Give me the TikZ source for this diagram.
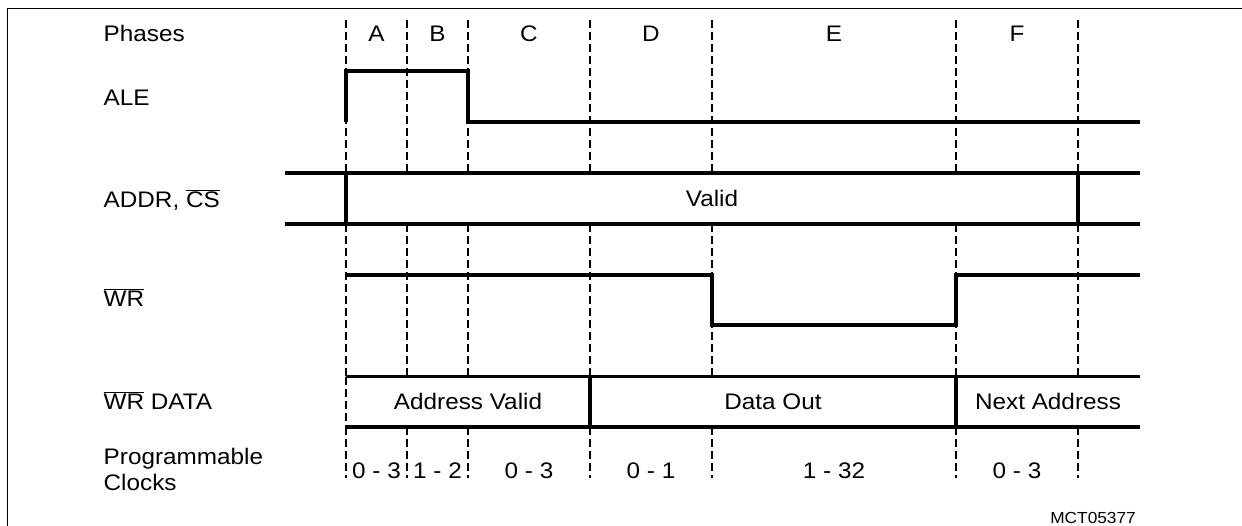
\documentclass[tikz,border=0pt]{standalone}
\usepackage{fontspec}
\setmainfont{Liberation Sans}[FakeStretch=1.08]
\usepackage{tikz}

\newcommand\ovl[1]{$\overline{\mbox{#1}}$}

\begin{document}
\begin{tikzpicture}[x=1pt,y=-1pt,
	sigline/.style={line width=3.2pt},
	phaseline/.style={line width=1.5pt,dash pattern=on 8pt off 4pt},
	lbl/.style={inner sep=0pt,anchor=base,font=\fontsize{22.5}{26}\selectfont},
	tag/.style={lbl,anchor=base west}]
\useasboundingbox (0,0) rectangle (1242,525);
\def\xr{1140}
\def\addrtop{173}
\def\addrbot{224}
\def\dtop{376.7}
\def\dbot{427}

% frame (only left and top edges are inside the picture)
\draw[line width=1.4pt] (7.3,526) |- (1243,8.3);

% phase boundaries
\foreach \x in {346,407,468,590,712,956,1078} {
	\draw[phaseline] (\x,20) -- (\x,\addrtop);
	\draw[phaseline] (\x,\addrbot) -- (\x,\dtop);
	\draw[phaseline] (\x,\dbot) -- (\x,478);
}
\draw[phaseline] (346,\dtop) -- (346,\dbot);

% row labels
\node[tag] (phases) at (103.5,41.5) {Phases};
\node[tag] (ale) at (103.5,105) {ALE};
\node[tag] (addr) at (103.5,207) {ADDR, \ovl{CS}};
\node[tag] (wr) at (103.5,306.5) {\ovl{WR}};
\node[tag] (wrdata) at (103.5,409.5) {\ovl{WR} DATA};
\node[tag] (prog) at (103.5,464) {Programmable};
\node[tag] (clocks) at (103.5,490) {Clocks};

\foreach \lab/\xc in {A/376.5,B/437.5,C/529,D/651,E/834,F/1017}
	\node[lbl] (ph\lab) at (\xc,41.5) {\lab};

% ALE
\draw[sigline] (346,122) -- (346,71) -- (468,71) -- (468,122) -- (\xr,122);

% ADDR, CS
\draw[sigline] (285,\addrtop) -- (\xr,\addrtop);
\draw[sigline] (285,\addrbot) -- (\xr,\addrbot);
\draw[sigline] (346,\addrtop) -- (346,\addrbot);
\draw[sigline] (1078,\addrtop) -- (1078,\addrbot);
\node[lbl] (valid) at (712,206) {Valid};

% WR
\draw[sigline] (346,275) -- (712,275) -- (712,325) -- (956,325) -- (956,275) -- (\xr,275);

% WR DATA
\draw[sigline] (346,\dtop) -- (\xr,\dtop);
\draw[sigline] (346,\dbot) -- (\xr,\dbot);
\draw[sigline] (590,\dtop) -- (590,\dbot);
\draw[sigline] (956,\dtop) -- (956,\dbot);
\node[lbl] (addrvalid) at (468,409.5) {Address Valid};
\node[lbl] (dataout) at (773,409.5) {Data Out};
\node[lbl] (nextaddr) at (1048,409.5) {Next Address};

% clocks per phase
\foreach \n/\xc [count=\i] in {0 - 3/376.5,1 - 2/437.5,0 - 3/529,0 - 1/651,1 - 32/834,0 - 3/1017}
	\node[lbl] (clk\i) at (\xc,478) {\n};

\node[inner sep=0pt,anchor=base east,font=\fontsize{16}{18}\selectfont] (figid) at (1136,523) {MCT05377};
\end{tikzpicture}
\end{document}
